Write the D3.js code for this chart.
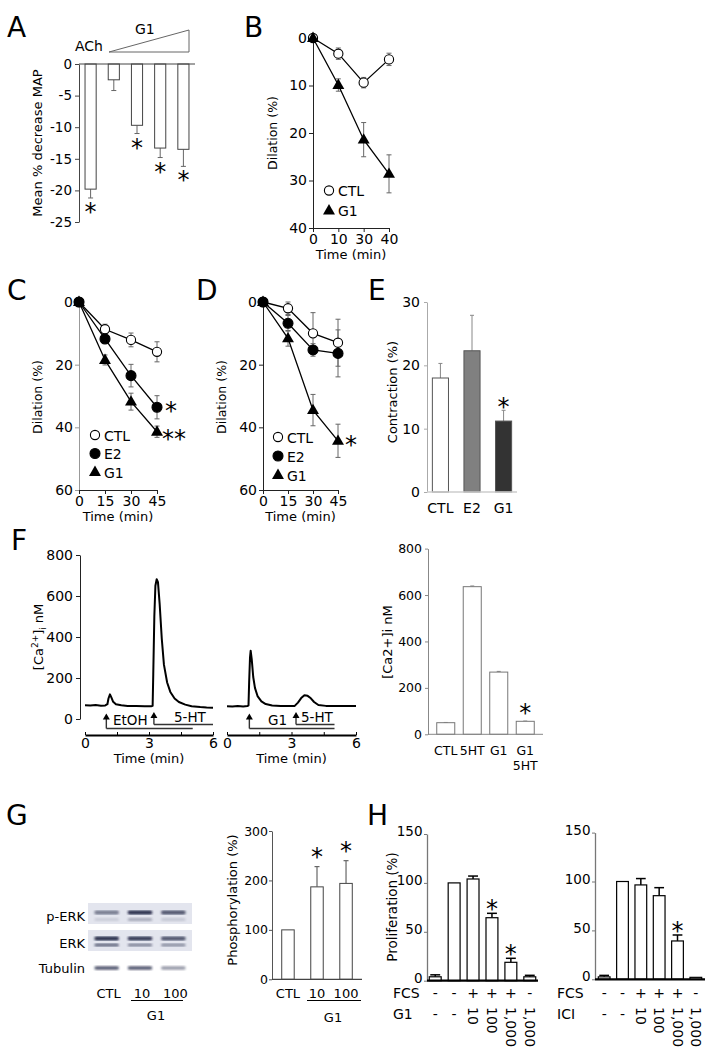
<!DOCTYPE html>
<html>
<head>
<meta charset="utf-8">
<script src="https://cdn.jsdelivr.net/npm/d3@7"></script>
<style>
  body { margin: 0; background: #fff; }
  svg text { font-family: "DejaVu Sans", Verdana, sans-serif; }
</style>
</head>
<body>
<svg id="fig" width="714" height="1050"></svg>
<script>
// ---- A: MAP decrease ----
var aGroups = ['ACh', 'G1-1', 'G1-2', 'G1-3', 'G1-4'];
var aMean = [-19.8, -2.5, -9.7, -13.3, -13.5];
var aErr = [1.4, 1.7, 1.3, 1.5, 2.7];
var aSig = [1, 0, 1, 1, 1];
var aTicks = [0, -5, -10, -15, -20, -25];

// ---- B: dilation ----
var bTime = [0, 10, 30, 40];
var bCtl = [0, 3.3, 9.4, 4.5];
var bCtlErr = [0, 1.2, 1.1, 1.3];
var bG1 = [0, 9.9, 21.4, 28.6];
var bG1Err = [0, 1.3, 3.6, 4.0];
var bTicks = [0, 10, 20, 30, 40];

// ---- C / D: dilation ----
var cdTime = [0, 15, 30, 45];
var cdTicks = [0, 20, 40, 60];
var cCtl = [0, 8.7, 12.1, 15.9];
var cCtlErr = [0, 1.6, 2.2, 3.2];
var cE2 = [0, 11.8, 23.5, 33.6];
var cE2Err = [0, 1.0, 3.6, 3.7];
var cG1 = [0, 18.5, 31.8, 41.4];
var cG1Err = [0, 1.6, 2.7, 1.8];
var dCtl = [0, 2.0, 10.0, 13.0];
var dCtlErr = [0, 2.0, 6.6, 7.5];
var dE2 = [0, 6.8, 15.3, 16.4];
var dE2Err = [0, 2.5, 2.0, 7.5];
var dG1 = [0, 11.6, 34.5, 44.3];
var dG1Err = [0, 2.5, 5.0, 5.3];

// ---- E: contraction ----
var eGroups = ['CTL', 'E2', 'G1'];
var eMean = [18.0, 22.3, 11.2];
var eErr = [2.3, 5.6, 1.7];
var eSig = [0, 0, 1];
var eTicks = [0, 10, 20, 30];

// ---- F: calcium traces (time min, nM) ----
var fEtohTrace = [[0, 67], [0.25, 66], [0.5, 68], [0.75, 65], [0.95, 66], [1.05, 72], [1.1, 100],
  [1.17, 120], [1.24, 104], [1.32, 84], [1.45, 72], [1.7, 67], [2.0, 64], [2.4, 63], [2.8, 62],
  [3.1, 62], [3.17, 64], [3.2, 220], [3.25, 500], [3.3, 650], [3.36, 682], [3.42, 668],
  [3.5, 560], [3.6, 390], [3.7, 265], [3.85, 178], [4.0, 132], [4.2, 100], [4.4, 83],
  [4.7, 70], [5.0, 62], [5.4, 58], [5.7, 56], [6.0, 55]];
var fG1Trace = [[0, 62], [0.25, 61], [0.5, 63], [0.75, 61], [0.95, 63], [1.0, 66], [1.03, 180],
  [1.07, 300], [1.1, 333], [1.15, 292], [1.22, 205], [1.3, 152], [1.42, 112], [1.6, 86],
  [1.8, 73], [2.1, 66], [2.5, 64], [2.9, 63], [3.15, 64], [3.3, 80], [3.45, 102], [3.6, 116],
  [3.75, 113], [3.9, 101], [4.05, 83], [4.25, 68], [4.6, 64], [5.0, 63], [5.5, 64], [6.0, 63]];
var fTraceTicks = [0, 1.5, 3, 4.5, 6];
var fCaTicks = [0, 200, 400, 600, 800];
var fEtohStim = [1.0, 3.23];
var fEtohStimEnd = [5.05, 6.0];
var fG1Stim = [1.04, 3.21];
var fG1StimEnd = [5.0, 5.0];
var fBarGroups = ['CTL', '5HT', 'G1', 'G1 5HT'];
var fBarMean = [50, 636, 268, 56];
var fBarErr = [1, 3, 3, 1];
var fBarSig = [0, 0, 0, 1];

// ---- G: ERK ----
var blotLanes = ['CTL', '10', '100'];
var pErkUpper = [0.55, 0.95, 0.75];
var pErkLower = [0.12, 0.3, 0.15];
var erkUpper = [0.95, 0.9, 0.75];
var erkLower = [0.65, 0.5, 0.45];
var tubulin = [0.75, 0.75, 0.45];
var gGroups = ['CTL', '10', '100'];
var gMean = [100, 187, 194];
var gErr = [0, 41, 46];
var gSig = [0, 1, 1];
var gTicks = [0, 100, 200, 300];

// ---- H: proliferation ----
var hFcs = ['-', '-', '+', '+', '+', '-'];
var hDose = ['-', '-', '10', '100', '1,000', '1,000'];
var hG1Mean = [4, 100, 104, 64.4, 18.8, 4];
var hG1Err = [2, 0, 3, 4.5, 4.1, 1.5];
var hG1Sig = [0, 0, 0, 1, 1, 0];
var hIciMean = [2.5, 100, 96.5, 85.5, 39.2, 2];
var hIciErr = [1.5, 0, 6.5, 8.2, 6.1, 0];
var hIciSig = [0, 0, 0, 0, 1, 0];
var hTicks = [0, 50, 100, 150];

var svg = d3.select('#fig');
var FONT = '"DejaVu Sans", Verdana, sans-serif';
svg.append('rect').attr('width', 714).attr('height', 1050).attr('fill', '#fff');

function txt(x, y, s, fs, anchor) {
  return svg.append('text').attr('x', x).attr('y', y).attr('font-size', fs)
    .attr('text-anchor', anchor || 'start').text(s);
}
function vtitle(x, y, s, fs) {
  return svg.append('text')
    .attr('transform', 'translate(' + x + ',' + y + ') rotate(-90)')
    .attr('dy', '0.35em').attr('text-anchor', 'middle').attr('font-size', fs).text(s);
}
function star(x, cy, s) {
  txt(x, cy + 13, s || '*', 24, 'middle');
}
function line(x1, y1, x2, y2, col, w) {
  return svg.append('line').attr('x1', x1).attr('y1', y1).attr('x2', x2).attr('y2', y2)
    .attr('stroke', col || '#000').attr('stroke-width', w || 1);
}
function styleAxis(g, col, fs, w) {
  g.attr('font-family', FONT);
  g.select('.domain').attr('stroke', col).attr('stroke-width', w || 1);
  g.selectAll('.tick line').attr('stroke', col);
  g.selectAll('.tick text').attr('font-size', fs).attr('fill', '#000');
}
function errBar(x, y1, y2, cap, col, w) {
  line(x, y1, x, y2, col, w);
  line(x - cap / 2, y2, x + cap / 2, y2, col, w);
}
function letter(t, x, y) { txt(x, y, t, 28); }

// ================= A =================
letter('A', 7, 37);
var ay = d3.scaleLinear().domain([-25, 0]).range([222, 64]);
var ax = d3.scaleBand().domain(aGroups).range([79, 195]).paddingInner(0.52).paddingOuter(0.26);
var gA = svg.append('g').attr('transform', 'translate(79,0)')
  .call(d3.axisLeft(ay).tickValues(aTicks).tickSize(4).tickPadding(3).tickSizeOuter(0).tickFormat(function(d) { return d; }));
styleAxis(gA, '#444', 13.5);
aGroups.forEach(function(g, i) {
  var x = ax(g), w = ax.bandwidth(), cx = x + w / 2;
  errBar(cx, ay(aMean[i]), ay(aMean[i] - aErr[i]), 5, '#666', 1);
  svg.append('rect').attr('x', x).attr('y', ay(0)).attr('width', w)
    .attr('height', ay(aMean[i]) - ay(0)).attr('fill', '#fff').attr('stroke', '#444');
  if (aSig[i]) star(cx, ay(aMean[i] - aErr[i]) + 9);
});
line(79, ay(0), 195, ay(0), '#444', 1);
vtitle(37, 143, 'Mean % decrease MAP', 13);
txt(75, 50.5, 'ACh', 14);
txt(135, 34, 'G1', 14);
svg.append('polygon').attr('points', '109,52 189,30 189,52')
  .attr('fill', 'none').attr('stroke', '#666').attr('stroke-width', 1);

// ============ line panels (B, C, D) ============
function marker(x, y, kind) {
  if (kind === 'tri') {
    svg.append('path').attr('d', d3.symbol(d3.symbolTriangle, 62)())
      .attr('transform', 'translate(' + x + ',' + (y + 0.5) + ')').attr('fill', '#000');
  } else {
    svg.append('circle').attr('cx', x).attr('cy', y).attr('r', kind === 'open' ? 4.6 : 5)
      .attr('fill', kind === 'open' ? '#fff' : '#000').attr('stroke', '#000').attr('stroke-width', 1.1);
  }
}
function linePanel(xs, ys, times, series, yTicks, yCol, legend) {
  var x0 = xs.range()[0], x1 = xs.range()[1], yb = ys.range()[1];
  var gy = svg.append('g').attr('transform', 'translate(' + x0 + ',0)')
    .call(d3.axisLeft(ys).tickValues(yTicks).tickSize(4).tickPadding(2).tickSizeOuter(0));
  styleAxis(gy, yCol, 14);
  var gx = svg.append('g').attr('transform', 'translate(0,' + yb + ')')
    .call(d3.axisBottom(xs).tickValues(times).tickSize(4).tickPadding(2).tickSizeOuter(0));
  styleAxis(gx, '#222', 14);
  series.forEach(function(s) {
    times.forEach(function(t, i) {
      if (s.err[i] > 0) {
        errBar(xs(t), ys(s.mean[i] - s.err[i]), ys(s.mean[i] + s.err[i]), 5, '#666', 1);
        line(xs(t) - 2.5, ys(s.mean[i] - s.err[i]), xs(t) + 2.5, ys(s.mean[i] - s.err[i]), '#666', 1);
      }
    });
  });
  series.forEach(function(s) {
    var ln = d3.line().x(function(d, i) { return xs(times[i]); }).y(function(d) { return ys(d); });
    svg.append('path').attr('d', ln(s.mean)).attr('fill', 'none').attr('stroke', '#000').attr('stroke-width', 1.3);
  });
  series.forEach(function(s) {
    s.mean.forEach(function(v, i) { marker(xs(times[i]), ys(v), s.kind); });
  });
  series.forEach(function(s, k) {
    marker(legend.x, legend.y + k * legend.dy, s.kind);
    txt(legend.x + 9, legend.y + k * legend.dy + 5.5, s.name, 14);
  });
  txt((x0 + x1) / 2, yb + 31, 'Time (min)', 13, 'middle');
}

// ================= B =================
letter('B', 244, 37);
var byS = d3.scaleLinear().domain([0, 40]).range([38, 228]);
var bxS = d3.scalePoint().domain(bTime).range([313, 389]);
linePanel(bxS, byS, bTime,
  [{ name: 'CTL', mean: bCtl, err: bCtlErr, kind: 'open' },
   { name: 'G1', mean: bG1, err: bG1Err, kind: 'tri' }],
  bTicks, '#222', { x: 329, y: 190.5, dy: 20 });
vtitle(273, 133, 'Dilation (%)', 12.5);

// ================= C =================
letter('C', 7, 300);
var cyS = d3.scaleLinear().domain([0, 60]).range([302, 490]);
var cxS = d3.scaleLinear().domain([0, 45]).range([79, 157]);
linePanel(cxS, cyS, cdTime,
  [{ name: 'CTL', mean: cCtl, err: cCtlErr, kind: 'open' },
   { name: 'E2', mean: cE2, err: cE2Err, kind: 'dot' },
   { name: 'G1', mean: cG1, err: cG1Err, kind: 'tri' }],
  cdTicks, '#999', { x: 95, y: 435, dy: 18.5 });
vtitle(38, 397, 'Dilation (%)', 12.5);
star(171, cyS(cE2[3]) - 1);
star(174, cyS(cG1[3]) + 2, '**');

// ================= D =================
letter('D', 196, 300);
var dyS = d3.scaleLinear().domain([0, 60]).range([302, 490]);
var dxS = d3.scaleLinear().domain([0, 45]).range([263, 338]);
linePanel(dxS, dyS, cdTime,
  [{ name: 'CTL', mean: dCtl, err: dCtlErr, kind: 'open' },
   { name: 'E2', mean: dE2, err: dE2Err, kind: 'dot' },
   { name: 'G1', mean: dG1, err: dG1Err, kind: 'tri' }],
  cdTicks, '#222', { x: 278, y: 437, dy: 19 });
vtitle(222, 397, 'Dilation (%)', 12.5);
star(351, dyS(dG1[3]) - 1);

// ================= E =================
letter('E', 368, 300);
var eyS = d3.scaleLinear().domain([0, 30]).range([492, 302]);
var exS = d3.scaleBand().domain(eGroups).range([427, 517]).paddingInner(0.49).paddingOuter(0.17);
var eFill = ['#fff', '#808080', '#333'];
var gEy = svg.append('g').attr('transform', 'translate(427,0)')
  .call(d3.axisLeft(eyS).tickValues(eTicks).tickSize(3).tickPadding(4).tickSizeOuter(0));
styleAxis(gEy, '#aaa', 14);
eGroups.forEach(function(g, i) {
  var x = exS(g), w = exS.bandwidth(), cx = x + w / 2;
  errBar(cx, eyS(eMean[i]), eyS(eMean[i] + eErr[i]), 4, '#888', 1);
  svg.append('rect').attr('x', x).attr('y', eyS(eMean[i])).attr('width', w)
    .attr('height', eyS(0) - eyS(eMean[i])).attr('fill', eFill[i]).attr('stroke', '#555');
  txt(cx, 513, g, 14, 'middle');
  if (eSig[i]) star(cx, eyS(eMean[i] + eErr[i]) - 8);
});
line(427, eyS(0), 517, eyS(0), '#ccc', 1.5);
vtitle(392, 392, 'Contraction (%)', 13);

// ================= F traces =================
letter('F', 11, 550);
var fy = d3.scaleLinear().domain([0, 800]).range([719, 555]);
var fx1 = d3.scaleLinear().domain([0, 6]).range([85, 213]);
var fx2 = d3.scaleLinear().domain([0, 6]).range([227, 356]);
var gFy = svg.append('g').attr('transform', 'translate(80,0)')
  .call(d3.axisLeft(fy).tickValues(fCaTicks).tickSize(4).tickPadding(3).tickSizeOuter(0));
styleAxis(gFy, '#222', 14);
var yt = svg.append('text').attr('transform', 'translate(38,637) rotate(-90)')
  .attr('dy', '0.35em').attr('text-anchor', 'middle').attr('font-size', 13);
yt.append('tspan').text('[Ca');
yt.append('tspan').attr('font-size', 9).attr('dy', '-5').text('2+');
yt.append('tspan').attr('dy', '5').text(']');
yt.append('tspan').attr('font-size', 8).attr('dy', '3').text('i');
yt.append('tspan').attr('dy', '-3').text(' nM');

function trace(xs, pts, stim, stimEnd, labels, labelX) {
  var ln = d3.line().x(function(d) { return xs(d[0]); }).y(function(d) { return fy(d[1]); });
  svg.append('path').attr('d', ln(pts)).attr('fill', 'none').attr('stroke', '#000')
    .attr('stroke-width', 2).attr('stroke-linejoin', 'round');
  var gx = svg.append('g').attr('transform', 'translate(0,735)')
    .call(d3.axisBottom(xs).tickValues(fTraceTicks).tickSize(-3).tickPadding(3).tickSizeOuter(0)
      .tickFormat(function(d) { return d % 3 === 0 ? d : ''; }));
  styleAxis(gx, '#000', 14, 2.2);
  txt((xs(0) + xs(6)) / 2, 763, 'Time (min)', 13, 'middle');
  var lows = [728.5, 724.5], tops = [713.5, 712];
  stim.forEach(function(t, k) {
    var x = xs(t);
    svg.append('path').attr('d', 'M' + x + ',' + lows[k] + 'V' + (tops[k] + 5) + 'M' + x + ',' + lows[k] + 'H' + xs(stimEnd[k]))
      .attr('fill', 'none').attr('stroke', '#333').attr('stroke-width', 1.4);
    svg.append('polygon').attr('points', (x - 3.5) + ',' + (tops[k] + 6) + ' ' + (x + 3.5) + ',' + (tops[k] + 6) + ' ' + x + ',' + tops[k])
      .attr('fill', '#000');
    txt(labelX[k], k === 0 ? 725 : 722, labels[k], 13.5);
  });
}
trace(fx1, fEtohTrace, fEtohStim, fEtohStimEnd, ['EtOH', '5-HT'], [113, 174]);
trace(fx2, fG1Trace, fG1Stim, fG1StimEnd, ['G1', '5-HT'], [268, 301]);

// ================= F bars =================
var fby = d3.scaleLinear().domain([0, 800]).range([734.3, 548.6]);
var fbx = d3.scaleBand().domain(fBarGroups).range([428, 543]).paddingInner(0.32).paddingOuter(0.33);
var gFb = svg.append('g').attr('transform', 'translate(428,0)')
  .call(d3.axisLeft(fby).tickValues(fCaTicks).tickSize(3).tickPadding(3).tickSizeOuter(0));
styleAxis(gFb, '#888', 12.5);
fBarGroups.forEach(function(g, i) {
  var x = fbx(g), w = fbx.bandwidth(), cx = x + w / 2;
  errBar(cx, fby(fBarMean[i]), fby(fBarMean[i] + fBarErr[i]), 4, '#888', 1);
  svg.append('rect').attr('x', x).attr('y', fby(fBarMean[i])).attr('width', w)
    .attr('height', fby(0) - fby(fBarMean[i])).attr('fill', '#fff').attr('stroke', '#777');
  g.split(' ').forEach(function(s, k) { txt(cx, 755 + k * 15, s, 12.5, 'middle'); });
  if (fBarSig[i]) star(cx, fby(fBarMean[i] + fBarErr[i]) - 13);
});
line(428, fby(0), 543, fby(0), '#888', 1);
vtitle(387, 642, '[Ca2+]i nM', 13);

// ================= G blot =================
letter('G', 6, 825);
var laneX = d3.scaleBand().domain(blotLanes).range([90, 190]).paddingInner(0.2).paddingOuter(0.1);
var defs = svg.append('defs');
defs.append('filter').attr('id', 'blur').append('feGaussianBlur').attr('stdDeviation', 1.1);
svg.append('rect').attr('x', 88).attr('y', 903).attr('width', 104).attr('height', 21).attr('fill', '#e3e5ee');
svg.append('rect').attr('x', 88).attr('y', 930).attr('width', 104).attr('height', 21).attr('fill', '#e3e5ee');
function bands(vals, y, h) {
  blotLanes.forEach(function(l, i) {
    svg.append('rect').attr('x', laneX(l) + 1).attr('y', y - h / 2).attr('width', laneX.bandwidth() - 2)
      .attr('height', h).attr('rx', 2).attr('fill', '#1b2040').attr('opacity', vals[i])
      .attr('filter', 'url(#blur)');
  });
}
bands(pErkUpper, 912.5, 4);
bands(pErkLower, 919.5, 3);
bands(erkUpper, 938.5, 4);
bands(erkLower, 945, 3);
bands(tubulin, 968, 3.5);
txt(85, 921, 'p-ERK', 13, 'end');
txt(85, 948, 'ERK', 13, 'end');
txt(85, 973, 'Tubulin', 13, 'end');
blotLanes.forEach(function(l) { txt(laneX(l) + laneX.bandwidth() / 2 + 2, 998, l, 13, 'middle'); });
line(131, 1000.5, 183, 1000.5, '#000', 1);
txt(156, 1020, 'G1', 13, 'middle');

// ================= G bars =================
var gyS = d3.scaleLinear().domain([0, 300]).range([979.3, 831]);
var gxS = d3.scaleBand().domain(gGroups).range([272, 362]).paddingInner(0.57).paddingOuter(0.335);
var gGy = svg.append('g').attr('transform', 'translate(272,0)')
  .call(d3.axisLeft(gyS).tickValues(gTicks).tickSize(3).tickPadding(1).tickSizeOuter(0));
styleAxis(gGy, '#555', 12.5);
gGroups.forEach(function(g, i) {
  var x = gxS(g), w = gxS.bandwidth(), cx = x + w / 2;
  if (gErr[i] > 0) errBar(cx, gyS(gMean[i]), gyS(gMean[i] + gErr[i]), 5, '#666', 1.2);
  svg.append('rect').attr('x', x).attr('y', gyS(gMean[i])).attr('width', w)
    .attr('height', gyS(0) - gyS(gMean[i])).attr('fill', '#fff').attr('stroke', '#444');
  txt(cx, 998, g, 13, 'middle');
  if (gSig[i]) star(cx, gyS(gMean[i] + gErr[i]) - 15);
});
line(272, gyS(0), 362, gyS(0), '#444', 1.2);
line(307, 1000.5, 361, 1000.5, '#000', 1);
txt(333, 1022, 'G1', 13, 'middle');
vtitle(232, 900, 'Phosphorylation (%)', 13);

// ================= H =================
letter('H', 367, 825);
function profPanel(x0, x1, y0, mean, err, sig, p, o, rowX, drug) {
  var ys = d3.scaleLinear().domain([0, 150]).range([y0, y0 - 146.7]);
  var xs = d3.scaleBand().domain(d3.range(mean.length)).range([x0, x1]).paddingInner(p).paddingOuter(o);
  var ga = svg.append('g').attr('transform', 'translate(' + x0 + ',0)')
    .call(d3.axisLeft(ys).tickValues(hTicks).tickSize(3).tickPadding(1.5).tickSizeOuter(0));
  styleAxis(ga, '#777', 13.5, 1.3);
  ga.selectAll('.tick text').attr('dy', '0.12em');
  mean.forEach(function(v, i) {
    var x = xs(i), w = xs.bandwidth(), cx = x + w / 2;
    if (err[i] > 0) errBar(cx, ys(v), ys(v + err[i]), w - 2, '#000', 1.5);
    svg.append('rect').attr('x', x).attr('y', ys(v)).attr('width', w)
      .attr('height', ys(0) - ys(v)).attr('fill', '#fff').attr('stroke', '#000').attr('stroke-width', 1.2);
    if (sig[i]) star(cx, ys(v + err[i]) - 9);
    txt(cx, 998, hFcs[i], 14, 'middle');
    if (hDose[i] === '-') {
      txt(cx, 1019, '-', 14, 'middle');
    } else {
      svg.append('text').attr('transform', 'translate(' + cx + ',1007) rotate(90)')
        .attr('dy', '0.35em').attr('font-size', 14).text(hDose[i]);
    }
  });
  line(x0, ys(0), x1, ys(0), '#000', 2.2);
  txt(rowX, 998, 'FCS', 14);
  txt(rowX, 1019, drug, 14);
}
profPanel(427, 538, 980.7, hG1Mean, hG1Err, hG1Sig, 0.37, 0.12, 393, 'G1');
profPanel(595, 705, 979.3, hIciMean, hIciErr, hIciSig, 0.36, 0.18, 557, 'ICI');
vtitle(392, 907, 'Proliferation (%)', 13.5);
</script>
</body>
</html>
